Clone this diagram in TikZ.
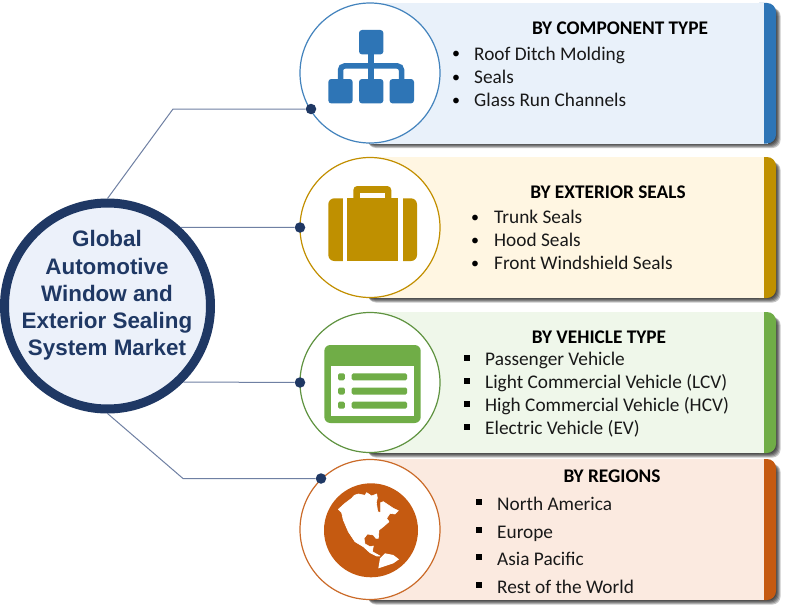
\documentclass[tikz,border=0pt]{standalone}
\usepackage{fontspec}
\setmainfont{Carlito}
\newfontfamily\hubfont{Liberation Sans}
\definecolor{hubdark}{HTML}{1F3864}
\definecolor{hubfill}{HTML}{ECF1FA}
\definecolor{linkc}{HTML}{6F80A3}
\definecolor{cblue}{HTML}{2E75B6}
\definecolor{pblue}{HTML}{E9F1FA}
\definecolor{cgold}{HTML}{BF9000}
\definecolor{pgold}{HTML}{FFF6E2}
\definecolor{cgreen}{HTML}{70AD47}
\definecolor{pgreen}{HTML}{EFF7EA}
\definecolor{lgreen}{HTML}{5F9340}
\definecolor{corange}{HTML}{C55A11}
\definecolor{porange}{HTML}{FBEAE0}
\tikzset{
  hubnode/.style={circle,draw=hubdark,line width=9pt,fill=hubfill,minimum size=206pt,inner sep=0pt},
  hubtext/.style={font=\hubfont\fontsize{22.4}{27.2}\selectfont\bfseries,text=hubdark,align=center,inner sep=0pt},
  dotnode/.style={circle,fill=hubdark,minimum size=10.5pt,inner sep=0pt},
  link/.style={draw=linkc,line width=1pt},
  titletext/.style={font=\fontsize{19.3}{22}\selectfont\bfseries,text=black,anchor=base,inner sep=0pt},
  itemtext/.style={font=\fontsize{19.3}{22}\selectfont,text=black!90,anchor=base west,inner sep=0pt},
  roundbullet/.style={font=\fontsize{16}{20}\selectfont,text=black,anchor=base,inner sep=0pt},
  squarebullet/.style={rectangle,fill=black,minimum size=5.5pt,inner sep=0pt},
  iconcircle/.style={circle,fill=white,line width=1.2pt,minimum size=140pt,inner sep=0pt},
}
\newcommand{\panelbg}[4]{% top, bottom, panel colour, bar colour
  \foreach \d in {0,1,2,3,4}{
    \fill[black,opacity=0.22,rounded corners=8pt] (366+\d*0.5,#1+5) rectangle (776.5+\d,#2+\d+0.5);
  }
  \fill[#3] (370,#1) rectangle (768,#2);
  \fill[#4,rounded corners=9pt] (750,#1) rectangle (776,#2);
  \fill[#3] (750,#1) rectangle (764,#2);
}
\begin{document}
\begin{tikzpicture}[x=1pt,y=-1pt]
\useasboundingbox (0,0) rectangle (800,610);
\fill[white] (0,0) rectangle (800,610);

% panels
\panelbg{3}{143.5}{pblue}{cblue}
\panelbg{157}{298}{pgold}{cgold}
\panelbg{312}{453}{pgreen}{cgreen}
\panelbg{459}{600}{porange}{corange}

% icon circles
\node[iconcircle,draw=cblue!90!white] (c1) at (370,73) {};
\node[iconcircle,draw=cgold!95!orange] (c2) at (370,227.5) {};
\node[iconcircle,draw=lgreen] (c3) at (370,382.5) {};
\node[iconcircle,draw=corange!90!white] (c4) at (370,529.5) {};

% hub and links
\node[hubnode] (hub) at (107.5,306) {};
\node[hubtext] (hubt) at (107,295.5) {Global\\Automotive\\Window and\\Exterior Sealing\\System Market};
\node[dotnode] (d1) at (311,109) {};
\node[dotnode] (d2) at (300,227.5) {};
\node[dotnode] (d3) at (300,382.5) {};
\node[dotnode] (d4) at (321,478.5) {};
\coordinate (b1) at (173,109);
\coordinate (b4) at (183,478.5);
\draw[link] (hub.north) -- (b1) -- (d1);
\draw[link] (hub.47) -- (d2);
\draw[link] (hub.-45.4) -- (d3);
\draw[link] (hub.south) -- (b4) -- (d4);

% icon 1: hierarchy
\draw[cblue,line width=5.5pt,rounded corners=4pt] (340.5,80) -- (340.5,66) -- (401.5,66) -- (401.5,80);
\draw[cblue,line width=5.5pt] (371,54) -- (371,80);
\foreach \x/\y in {359/30,328.3/79,359/79,389.6/79}{
  \fill[cblue,rounded corners=3pt] (\x,\y) rectangle +(24.4,24.4);
}

% icon 2: suitcase
\fill[cgold,rounded corners=4pt] (353.3,186) rectangle (391.3,204);
\fill[pgold!20!white] (360,192.7) rectangle (385,198.4);
\fill[cgold,rounded corners=6pt] (328.3,198.3) rectangle (350,261);
\fill[cgold,rounded corners=6pt] (396,198.3) rectangle (417,261);
\fill[white] (343.3,197) rectangle (347.3,262);
\fill[white] (397.7,197) rectangle (402.7,262);
\fill[cgold] (347.3,198.3) rectangle (397.7,261);

% icon 3: list window
\fill[cgreen,rounded corners=6pt] (324.3,345) rectangle (420.7,423);
\fill[white] (330.7,366.3) rectangle (414,416.3);
\foreach \y in {373.3,387.5,401.7}{
  \fill[cgreen,rounded corners=1.5pt] (338,\y) rectangle +(6.8,7);
  \fill[cgreen,rounded corners=1.5pt] (351.7,\y) rectangle +(55.3,7);
}

% icon 4: globe
\fill[corange] (371,530.3) circle (47);
\begin{scope}[shift={(315,470)},x=0.3333pt,y=-0.3333pt]
  \fill[white,draw=white,line width=0.6pt,line join=round] (70,118) -- (90,100) -- (110,85) -- (118,76) -- (130,72) -- (150,76) -- (155,68) -- (170,78) -- (185,72) -- (187,84) -- (184,97) -- (188,125) -- (197,128) -- (197,98) -- (205,95) -- (220,105) -- (235,115) -- (250,122) -- (240,132) -- (225,130) -- (215,145) -- (222,155) -- (205,170) -- (192,180) -- (190,205) -- (183,205) -- (175,195) -- (157,192) -- (147,205) -- (150,222) -- (165,230) -- (175,228) -- (172,245) -- (195,258) -- (185,258) -- (165,248) -- (145,230) -- (120,215) -- (100,185) -- (85,150) -- (80,128) -- cycle;
  \fill[white,line join=round] (190,295) -- (195,265) -- (210,250) -- (235,255) -- (252,268) -- (235,280) -- (205,290) -- cycle;
\end{scope}

% panel 1 text
\node[titletext] (t1) at (620,35) {BY COMPONENT TYPE};
\node[roundbullet] (b11) at (456,59) {•};
\node[itemtext] (i11) at (474,60) {Roof Ditch Molding};
\node[roundbullet] (b12) at (456,82) {•};
\node[itemtext] (i12) at (474,83) {Seals};
\node[roundbullet] (b13) at (456,105) {•};
\node[itemtext] (i13) at (474,106) {Glass Run Channels};

% panel 2 text
\node[titletext] (t2) at (608,198) {BY EXTERIOR SEALS};
\node[roundbullet] (b21) at (475,222) {•};
\node[itemtext] (i21) at (494,223) {Trunk Seals};
\node[roundbullet] (b22) at (475,245) {•};
\node[itemtext] (i22) at (494,246) {Hood Seals};
\node[roundbullet] (b23) at (475,268) {•};
\node[itemtext] (i23) at (494,269) {Front Windshield Seals};

% panel 3 text
\node[titletext] (t3) at (599,343) {BY VEHICLE TYPE};
\node[squarebullet] (b31) at (467,358) {};
\node[itemtext] (i31) at (485,365) {Passenger Vehicle};
\node[squarebullet] (b32) at (467,381) {};
\node[itemtext] (i32) at (485,388) {Light Commercial Vehicle (LCV)};
\node[squarebullet] (b33) at (467,404) {};
\node[itemtext] (i33) at (485,411) {High Commercial Vehicle (HCV)};
\node[squarebullet] (b34) at (467,427) {};
\node[itemtext] (i34) at (485,434) {Electric Vehicle (EV)};

% panel 4 text
\node[titletext] (t4) at (612,482) {BY REGIONS};
\node[squarebullet] (b41) at (479,502) {};
\node[itemtext] (i41) at (497,510) {North America};
\node[squarebullet] (b42) at (479,530) {};
\node[itemtext] (i42) at (497,538) {Europe};
\node[squarebullet] (b43) at (479,557) {};
\node[itemtext] (i43) at (497,565) {Asia Pacific};
\node[squarebullet] (b44) at (479,585) {};
\node[itemtext] (i44) at (497,593) {Rest of the World};
\end{tikzpicture}
\end{document}
